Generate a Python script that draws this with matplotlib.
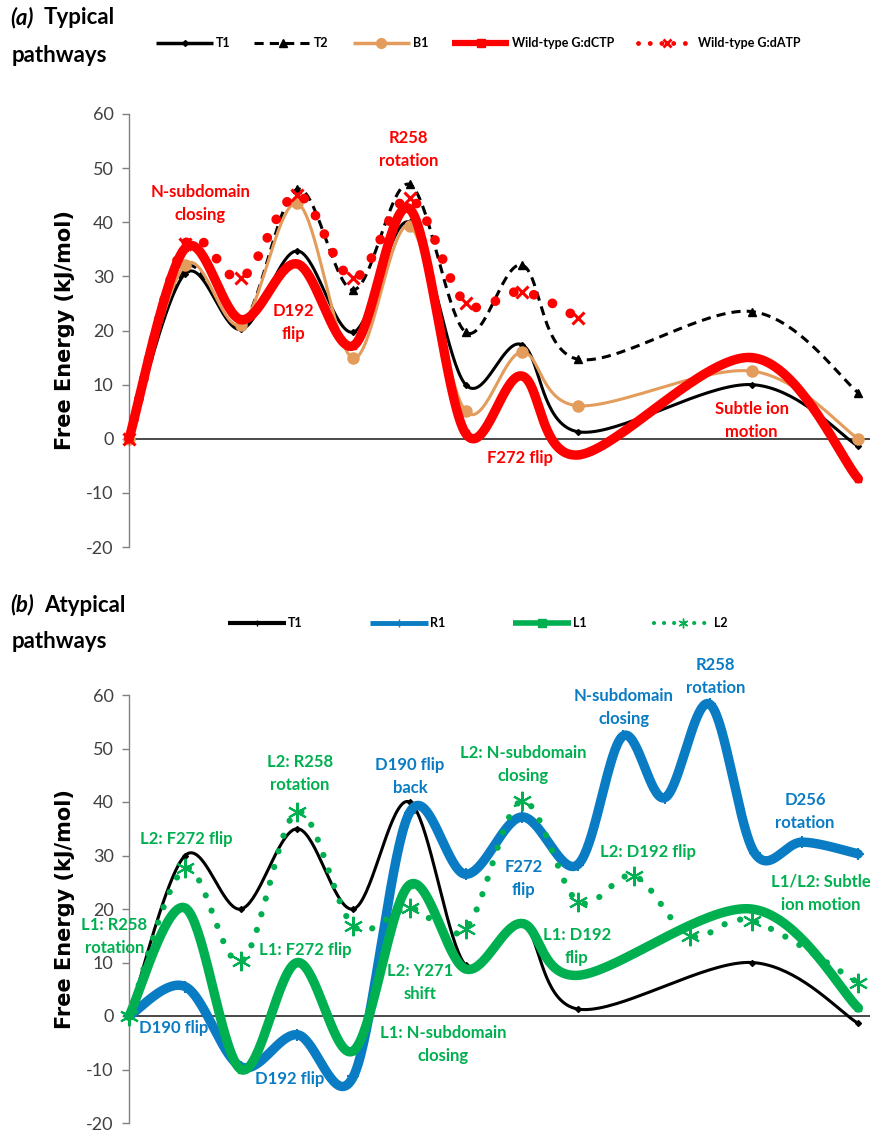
import numpy as np
import matplotlib
matplotlib.use("Agg")
import matplotlib.pyplot as plt
from matplotlib.lines import Line2D

# ---------------- data ----------------
# panel (a): typical pathways
x_a = [0, 1, 2, 3, 4, 5, 6, 7, 8, 11.1, 13]
t1_a = [0, 30.5, 20.2, 34.7, 19.7, 40.0, 10.0, 17.4, 1.3, 10.0, -1.4]
t2_a = [0, 31.5, 21.0, 46.1, 27.5, 47.0, 19.7, 32.1, 14.7, 23.5, 8.5]
b1_a = [0, 32.1, 21.1, 43.5, 14.9, 39.3, 5.1, 16.0, 6.1, 12.5, 0.0]
dctp_a = [0, 35.2, 22.0, 32.3, 17.2, 42.5, 1.0, 11.6, -3.0, 15.0, -7.4]
x_datp = [0, 1, 2, 3, 4, 5, 6, 7, 8]
datp_a = [0, 36.0, 29.7, 45.0, 29.7, 44.4, 25.1, 27.2, 22.4]

# panel (b): atypical pathways
x_t1b = [0, 1, 2, 3, 4, 5, 6, 7, 8, 11.1, 13]
t1_b = [0, 30.0, 20.0, 35.0, 20.0, 40.0, 9.5, 17.4, 1.3, 10.0, -1.4]
x_r1 = [0, 1, 2, 3, 4, 5, 6, 7, 8, 8.8, 9.55, 10.35, 11.15, 12, 13]
r1_b = [0, 5.5, -9.5, -3.5, -11.3, 38.0, 26.5, 37.2, 28.3, 52.3, 40.8, 58.3, 30.5, 32.5, 30.3]
x_l1 = [0, 1, 2, 3, 4, 5, 6, 7, 8, 11.1, 13]
l1_b = [0, 20.2, -10.0, 10.0, -6.5, 24.5, 8.8, 17.3, 7.6, 20.0, 1.5]
x_l2 = [0, 1, 2, 3, 4, 5, 6, 7, 8, 9, 10, 11.1, 13]
l2_b = [0, 27.6, 10.2, 38.2, 16.8, 20.2, 16.3, 40.2, 21.4, 26.2, 15.0, 17.8, 6.2]

yticks = [-20, -10, 0, 10, 20, 30, 40, 50, 60]
ylabel = "Free Energy (kJ/mol)"

RED = "#FF0000"
TAN = "#E39C5B"
BLUE = "#0A7CC4"
GREEN = "#00B050"
ANN = ["Lato", "DejaVu Sans"]


def smooth(xs, ys, n=40):
    """Excel-like smoothed line (Catmull-Rom through the points)."""
    p = np.column_stack([xs, ys]).astype(float)
    ext = np.vstack([p[0], p, p[-1]])
    out = []
    t = np.linspace(0, 1, n)[:, None]
    for i in range(len(p) - 1):
        p0, p1, p2, p3 = ext[i], ext[i + 1], ext[i + 2], ext[i + 3]
        c1 = p1 + (p2 - p0) / 6.0
        c2 = p2 - (p3 - p1) / 6.0
        seg = ((1 - t) ** 3) * p1 + 3 * ((1 - t) ** 2) * t * c1 + 3 * (1 - t) * t ** 2 * c2 + t ** 3 * p2
        out.append(seg if i == 0 else seg[1:])
    s = np.vstack(out)
    return s[:, 0], s[:, 1]


def series(ax, xs, ys, color, lw, ls="-", marker=None, ms=5, mfc=None, mew=1.0, z=2, cap="butt"):
    sx, sy = smooth(xs, ys)
    ln, = ax.plot(sx, sy, color=color, lw=lw, ls=ls, zorder=z, solid_capstyle=cap,
                  dash_capstyle=cap, clip_on=False)
    if marker is not None:
        ax.plot(xs, ys, ls="none", marker=marker, ms=ms, color=color,
                mfc=mfc if mfc is not None else color, mec=color, mew=mew,
                zorder=z + 0.1, clip_on=False)
    return ln


def style_axes(ax):
    ax.set_xlim(0, 13.2)
    ax.set_ylim(-20, 60)
    ax.set_yticks(yticks)
    ax.set_yticklabels([str(v) for v in yticks], family="Lato", fontsize=13, color="#404040")
    ax.set_xticks([])
    for s in ["top", "right", "bottom"]:
        ax.spines[s].set_visible(False)
    ax.spines["left"].set_color("#808080")
    ax.spines["left"].set_linewidth(1.0)
    ax.tick_params(axis="y", direction="out", length=5, color="#808080", width=1.0, pad=6)
    ax.axhline(0, color="#3a3a3a", lw=1.3, zorder=1.5)
    ax.set_ylabel(ylabel, family="DejaVu Sans", fontweight="bold", fontsize=15, labelpad=8)
    ax.patch.set_alpha(0)


def note(ax, x, y, s, color, size=12):
    ax.text(x, y, s, color=color, family=ANN, fontweight="bold", fontsize=size,
            ha="center", va="center", linespacing=1.55, zorder=10)


W, H = 874, 1134
fig = plt.figure(figsize=(W / 100, H / 100), dpi=100)

left = 129 / W
width = (13.2 * 56.1) / W
ax_a = fig.add_axes([left, 1 - 547 / H, width, (547 - 114) / H])
ax_b = fig.add_axes([left, 1 - 1123 / H, width, (1123 - 695) / H])

# ---------------- panel (a) ----------------
style_axes(ax_a)
series(ax_a, x_a, t1_a, "black", 2.2, marker="D", ms=3, z=2)
series(ax_a, x_a, t2_a, "black", 2.2, ls=(0, (3.0, 2.0)), marker="^", ms=6, z=2.2)
series(ax_a, x_a, b1_a, TAN, 2.2, marker="o", ms=8, z=2.4)
series(ax_a, x_a, dctp_a, RED, 6.8, marker="s", ms=5, z=2.6, cap="round")
series(ax_a, x_datp, datp_a, RED, 7.0, ls=(0, (0.01, 2.1)), marker="x", ms=9, mew=2.2, z=2.8, cap="round")

note(ax_a, 1.27, 43.4, "N-subdomain\nclosing", RED)
note(ax_a, 2.93, 21.5, "D192\nflip", RED)
note(ax_a, 4.98, 53.4, "R258\nrotation", RED)
note(ax_a, 6.97, -3.6, "F272 flip", RED)
note(ax_a, 11.1, 3.4, "Subtle ion\nmotion", RED)

# ---------------- panel (b) ----------------
style_axes(ax_b)
series(ax_b, x_t1b, t1_b, "black", 2.2, marker="D", ms=3, z=2)
series(ax_b, x_r1, r1_b, BLUE, 6.8, marker="+", ms=9, mew=1.5, z=2.2, cap="round")
series(ax_b, x_l1, l1_b, GREEN, 6.8, marker="s", ms=5, z=2.4, cap="round")
series(ax_b, x_l2, l2_b, GREEN, 4.5, ls=(0, (0.01, 2.6)), marker=(6, 2, 0), ms=14, mew=1.5, z=2.6, cap="round")

note(ax_b, 1.03, 33.0, "L2: F272 flip", GREEN)
note(ax_b, 3.05, 45.4, "L2: R258\nrotation", GREEN)
note(ax_b, -0.26, 14.9, "L1: R258\nrotation", GREEN)
note(ax_b, 3.14, 12.3, "L1: F272 flip", GREEN)
note(ax_b, 0.79, -2.3, "D190 flip", BLUE)
note(ax_b, 2.87, -11.8, "D192 flip", BLUE)
note(ax_b, 5.01, 44.7, "D190 flip\nback", BLUE)
note(ax_b, 7.03, 47.0, "L2: N-subdomain\nclosing", GREEN)
note(ax_b, 7.03, 25.7, "F272\nflip", BLUE)
note(ax_b, 5.19, 6.2, "L2: Y271\nshift", GREEN)
note(ax_b, 5.6, -5.3, "L1: N-subdomain\nclosing", GREEN)
note(ax_b, 7.98, 13.0, "L1: D192\nflip", GREEN)
note(ax_b, 10.45, 63.5, "R258\nrotation", BLUE)
note(ax_b, 8.82, 57.6, "N-subdomain\nclosing", BLUE)
note(ax_b, 12.05, 38.2, "D256\nrotation", BLUE)
note(ax_b, 9.26, 30.6, "L2: D192 flip", GREEN)
note(ax_b, 12.33, 22.9, "L1/L2: Subtle\nion motion", GREEN)

# ---------------- titles ----------------
for ytop, tag, word in [(18, "(a)", "Typical"), (605, "(b)", "Atypical")]:
    fig.text(10 / W, 1 - ytop / H, tag, family="Lato", fontweight="bold", fontstyle="italic",
             fontsize=16, ha="left", va="center")
    fig.text(44 / W, 1 - ytop / H, word, family="Lato", fontweight="bold",
             fontsize=16, ha="left", va="center")
    fig.text(12 / W, 1 - (ytop + 37) / H, "pathways", family="Lato", fontweight="bold",
             fontsize=16, ha="left", va="center")

# ---------------- legends ----------------
def h(color, lw, ls="-", marker=None, ms=5, mew=1.0, cap="butt"):
    return Line2D([], [], color=color, lw=lw, ls=ls, marker=marker, ms=ms, mew=mew,
                  mfc=color, mec=color, solid_capstyle=cap, dash_capstyle=cap)

hand_a = [h("black", 2.5, marker="D", ms=3),
          h("black", 2.2, ls=(0, (3.0, 2.0)), marker="^", ms=6),
          h(TAN, 2.5, marker="o", ms=7),
          h(RED, 4.5, marker="s", ms=6),
          h(RED, 3.5, ls=(0, (0.01, 2.4)), marker="x", ms=6, mew=2, cap="round")]
lab_a = ["T1", "T2", "B1", "Wild-type G:dCTP", "Wild-type G:dATP"]
fig.legend(hand_a, lab_a, loc="center", bbox_to_anchor=(0.547, 1 - 43 / H), ncol=5,
           frameon=False, handlelength=4.6, columnspacing=1.9, handletextpad=0.2,
           numpoints=1, prop={"family": "Lato", "weight": "bold", "size": 9})

hand_b = [h("black", 3, marker="|", ms=5),
          h(BLUE, 3.5, marker="|", ms=6),
          h(GREEN, 4, marker="s", ms=6),
          h(GREEN, 3, ls=(0, (0.01, 2.4)), marker=(6, 2, 0), ms=7, cap="round")]
lab_b = ["T1", "R1", "L1", "L2"]
fig.legend(hand_b, lab_b, loc="center", bbox_to_anchor=(0.547, 1 - 623 / H), ncol=4,
           frameon=False, handlelength=4.6, columnspacing=5.4, handletextpad=0.2,
           numpoints=1, prop={"family": "Lato", "weight": "bold", "size": 9})

fig.savefig("out.png", dpi=100)
